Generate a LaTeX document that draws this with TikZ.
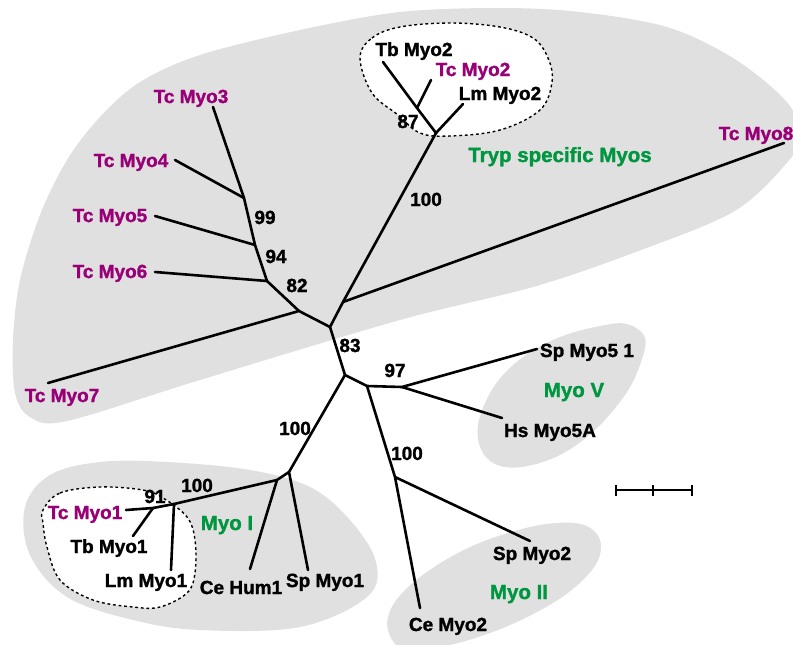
\documentclass[tikz,border=0pt]{standalone}
\usepackage{fontspec}
\setmainfont{Liberation Sans}[BoldFeatures={FakeBold=1.4}]
\definecolor{tcpurple}{RGB}{153,0,119}
\definecolor{grpgreen}{RGB}{0,150,64}
\definecolor{blobgray}{RGB}{224,224,224}
\begin{document}
\begin{tikzpicture}[x=1pt,y=-1pt,
  br/.style={line width=2.6pt,line cap=round,line join=round},
  blob/.style={fill=blobgray,draw=none},
  dashblob/.style={fill=white,draw=black,line width=1.4pt,dash pattern=on 2.8pt off 2.8pt},
  lab/.style={font=\fontsize{19}{21}\selectfont\bfseries,anchor=base,inner sep=0pt},
  tc/.style={lab,text=tcpurple},
  grp/.style={lab,font=\fontsize{20.5}{22}\selectfont\bfseries,text=grpgreen},
  bs/.style={lab}]
\useasboundingbox (0,0) rectangle (793,645);
% gray regions
\fill[blobgray] plot[smooth cycle,tension=0.55] coordinates {(67,421) (30,417) (15,393) (13,340) (20,280) (40,215) (67,160) (100,117) (140,82) (200,55) (300,30) (400,12) (500,8) (580,12) (667,27) (733,58) (785,100) (802,135) (785,165) (733,212) (633,253) (533,287) (400,320) (200,380)};
\fill[blobgray] plot[smooth cycle,tension=0.6] coordinates {(627,324) (600,326) (560,337) (523,357) (495,385) (479,420) (480,447) (495,464) (522,467) (560,455) (595,430) (625,395) (640,365) (645,338)};
\fill[blobgray] plot[smooth cycle,tension=0.6] coordinates {(575,523) (597,534) (600,555) (585,578) (553,603) (503,628) (450,645) (405,650) (388,630) (393,605) (420,577) (470,547) (530,527)};
\fill[blobgray] plot[smooth cycle,tension=0.6] coordinates {(25,507) (50,475) (100,462) (167,462) (250,470) (310,487) (350,520) (376,562) (367,597) (300,627) (200,630) (133,620) (67,597) (30,555)};
% dashed sub-groups
\draw[dashblob] plot[smooth cycle,tension=0.6] coordinates {(360,58) (372,38) (400,27) (450,23) (500,27) (533,38) (548,58) (552,82) (540,110) (500,130) (450,136) (420,133) (398,115) (372,93)};
\draw[dashblob] plot[smooth cycle,tension=0.6] coordinates {(43,510) (60,493) (100,487) (143,490) (163,498) (187,517) (195,540) (195,573) (187,593) (160,607) (133,607) (93,600) (60,580) (47,547) (43,523)};
% tree coordinates
\coordinate (C1) at (330,327);
\coordinate (A) at (299,311);
\coordinate (L7) at (48,383);
\coordinate (B82) at (267,281);
\coordinate (B94) at (255,245);
\coordinate (B99) at (244,198);
\coordinate (L3) at (213,107);
\coordinate (L4) at (175,160);
\coordinate (L5) at (155,216);
\coordinate (L6) at (155,272);
\coordinate (M8) at (343,302);
\coordinate (L8) at (784,143);
\coordinate (T) at (436,133);
\coordinate (T87) at (417,108);
\coordinate (LLm2) at (463,104);
\coordinate (LTb2) at (383,62);
\coordinate (LTc2) at (431,80);
\coordinate (D) at (345,375);
\coordinate (E) at (367,386);
\coordinate (F) at (402,387);
\coordinate (LSp5) at (537,349);
\coordinate (LHs5) at (502,418);
\coordinate (G) at (395,477);
\coordinate (LCe2) at (420,608);
\coordinate (LSp2) at (530,541);
\coordinate (H) at (289,472);
\coordinate (LSpM1) at (308,570);
\coordinate (I) at (277,480);
\coordinate (LCeH) at (250,569);
\coordinate (J) at (174,504);
\coordinate (LLm1) at (171,570);
\coordinate (K) at (153,508);
\coordinate (LTc1) at (126,510);
\coordinate (LTb1) at (133,536);
% branches
\draw[br] (C1) -- (A) -- (L7);
\draw[br] (A) -- (B82) -- (B94) -- (B99) -- (L3);
\draw[br] (B99) -- (L4);
\draw[br] (B94) -- (L5);
\draw[br] (B82) -- (L6);
\draw[br] (C1) -- (M8) -- (T);
\draw[br] (M8) -- (L8);
\draw[br] (T) -- (LLm2);
\draw[br] (T) -- (T87) -- (LTb2);
\draw[br] (T87) -- (LTc2);
\draw[br] (C1) -- (D) -- (E) -- (F) -- (LSp5);
\draw[br] (F) -- (LHs5);
\draw[br] (E) -- (G) -- (LCe2);
\draw[br] (G) -- (LSp2);
\draw[br] (D) -- (H) -- (LSpM1);
\draw[br] (H) -- (I) -- (LCeH);
\draw[br] (I) -- (J) -- (LLm1);
\draw[br] (J) -- (K) -- (LTc1);
\draw[br] (K) -- (LTb1);
% labels
\node[tc] (n3) at (191,103) {Tc Myo3};
\node[tc] (n4) at (131,167) {Tc Myo4};
\node[tc] (n5) at (110,222) {Tc Myo5};
\node[tc] (n6) at (110,278) {Tc Myo6};
\node[tc] (n7) at (62,402) {Tc Myo7};
\node[tc] (n8) at (756,140) {Tc Myo8};
\node[bs] (nTb2) at (414,56) {Tb Myo2};
\node[tc] (nTc2) at (473,76) {Tc Myo2};
\node[bs] (nLm2) at (500,100) {Lm Myo2};
\node[bs] (b87) at (408,128) {87};
\node[grp] (gTryp) at (560,162) {Tryp specific Myos};
\node[bs] (b100a) at (426,206) {100};
\node[bs] (b99) at (265,224) {99};
\node[bs] (b94) at (276,263) {94};
\node[bs] (b82) at (297,292) {82};
\node[bs] (b83) at (350,352) {83};
\node[bs] (b97) at (395,377) {97};
\node[bs] (b100b) at (295,435) {100};
\node[bs] (nSp5) at (587,357) {Sp Myo5 1};
\node[grp] (gV) at (574,397) {Myo V};
\node[bs] (nHs5) at (550,437) {Hs Myo5A};
\node[bs] (b100c) at (407,460) {100};
\node[bs] (nSp2) at (532,560) {Sp Myo2};
\node[grp] (gII) at (519,599) {Myo II};
\node[bs] (nCe2) at (448,631) {Ce Myo2};
\node[bs] (b100d) at (197,492) {100};
\node[bs] (b91) at (155,503) {91};
\node[tc] (nTc1) at (85,519) {Tc Myo1};
\node[bs] (nTb1) at (109,553) {Tb Myo1};
\node[bs] (nLm1) at (146,587) {Lm Myo1};
\node[grp] (gI) at (227,530) {Myo I};
\node[bs] (nCeH) at (241,594) {Ce Hum1};
\node[bs] (nSpM1) at (325,587) {Sp Myo1};
% scale bar
\coordinate (s1) at (616,490);
\coordinate (s2) at (653,490);
\coordinate (s3) at (692,490);
\draw[line width=2.6pt] (s1) -- (s3);
\foreach \s in {s1,s2,s3} \draw[line width=2pt] ([yshift=-5.5pt]\s) -- ([yshift=5.5pt]\s);
\end{tikzpicture}
\end{document}
